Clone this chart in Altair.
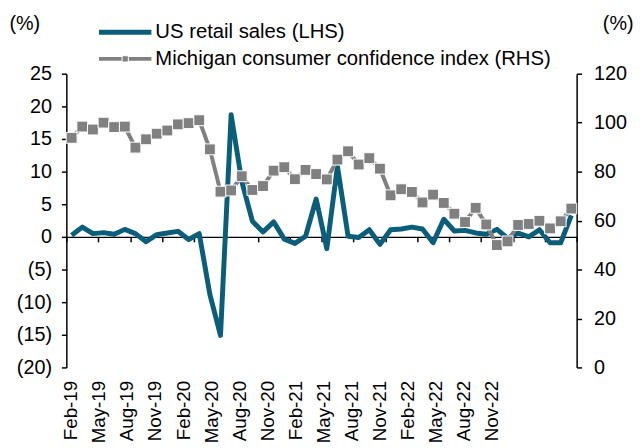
import altair as alt
import pandas as pd

months = [
    "Feb-19", "Mar-19", "Apr-19", "May-19", "Jun-19", "Jul-19", "Aug-19", "Sep-19", "Oct-19", "Nov-19", "Dec-19",
    "Jan-20", "Feb-20", "Mar-20", "Apr-20", "May-20", "Jun-20", "Jul-20", "Aug-20", "Sep-20", "Oct-20", "Nov-20", "Dec-20",
    "Jan-21", "Feb-21", "Mar-21", "Apr-21", "May-21", "Jun-21", "Jul-21", "Aug-21", "Sep-21", "Oct-21", "Nov-21", "Dec-21",
    "Jan-22", "Feb-22", "Mar-22", "Apr-22", "May-22", "Jun-22", "Jul-22", "Aug-22", "Sep-22", "Oct-22", "Nov-22", "Dec-22",
    "Jan-23",
]

# US retail sales, % m/m (LHS)
retail = [
    0.25, 1.5, 0.5, 0.65, 0.4, 1.15, 0.5, -0.75, 0.35, 0.6, 0.85,
    -0.4, 0.5, -8.8, -15.1, 18.7, 8.5, 2.4, 0.75, 2.3, -0.35, -1.0, 0.1,
    5.8, -1.8, 10.8, 0.1, -0.1, 1.1, -1.15, 1.1, 1.2, 1.5, 1.2, -0.9,
    2.7, 0.9, 1.0, 0.6, 0.4, 1.15, -0.2, 0.6, 0.0, 1.1, -0.9, -0.9,
    3.3,
]

# Michigan consumer confidence index (RHS)
michigan = [
    93.8, 98.4, 97.2, 100.0, 98.2, 98.4, 89.8, 93.2, 95.5, 96.8, 99.3,
    99.8, 101.0, 89.1, 71.8, 72.3, 78.1, 72.5, 74.1, 80.4, 81.8, 76.9, 80.7,
    79.0, 76.8, 84.9, 88.3, 82.9, 85.5, 81.2, 70.3, 72.8, 71.7, 67.4, 70.6,
    67.2, 62.8, 59.4, 65.2, 58.4, 50.0, 51.5, 58.2, 58.6, 59.9, 56.8, 59.7,
    64.9,
]

tick_labels = [
    "Feb-19", "May-19", "Aug-19", "Nov-19", "Feb-20", "May-20", "Aug-20", "Nov-20",
    "Feb-21", "May-21", "Aug-21", "Nov-21", "Feb-22", "May-22", "Aug-22", "Nov-22",
]

left_ticks = [-20, -15, -10, -5, 0, 5, 10, 15, 20, 25]
right_ticks = [0, 20, 40, 60, 80, 100, 120]

FONT = "Liberation Sans"
FS = 20
LEG_FS = 20.5
XFS = 19
BLUE = "#0B5E7A"
GRAY = "#808080"
W, H = 516, 297

df = pd.DataFrame({
    "idx": list(range(len(months))),
    "month": months,
    "retail": retail,
    "michigan": michigan,
})
lab_df = pd.DataFrame({"label": tick_labels})
one = pd.DataFrame({"k": [0]})

n = len(months)
xscale = alt.Scale(domain=[-0.5, n - 0.5], nice=False, zero=False)
zero_offset = -round(H * (0 - left_ticks[0]) / (left_ticks[-1] - left_ticks[0]))
boundary_ticks = [-0.5 + 3 * k for k in range(n // 3 + 1)]

retail_line = alt.Chart(df).mark_line(color=BLUE, strokeWidth=5, strokeJoin="round").encode(
    x=alt.X("idx:Q", scale=xscale,
            axis=alt.Axis(orient="bottom", offset=zero_offset, values=boundary_ticks,
                          labels=False, ticks=True, tickSize=5, tickWidth=1.5,
                          domain=True, domainWidth=1.5, domainColor="black",
                          tickColor="black", grid=False, title=None)),
    y=alt.Y("retail:Q", scale=alt.Scale(domain=[left_ticks[0], left_ticks[-1]], nice=False, zero=False),
            axis=alt.Axis(orient="left", values=left_ticks,
                          labelExpr="datum.value < 0 ? '(' + abs(datum.value) + ')' : '' + datum.value",
                          tickSize=5, tickWidth=1.5, domainWidth=1.5, domainColor="black",
                          tickColor="black", grid=False, title=None, labelPadding=10)),
)

mich_line = alt.Chart(df).mark_line(
    color=GRAY, strokeWidth=4,
    point=alt.OverlayMarkDef(shape="square", size=121, filled=True, fill=GRAY,
                             stroke="white", strokeWidth=1, opacity=1),
).encode(
    x=alt.X("idx:Q", scale=xscale, axis=None),
    y=alt.Y("michigan:Q", scale=alt.Scale(domain=[right_ticks[0], right_ticks[-1]], nice=False, zero=False),
            axis=alt.Axis(orient="right", values=right_ticks,
                          tickSize=5, tickWidth=1.5, domainWidth=1.5, domainColor="black",
                          tickColor="black", grid=False, title=None, labelPadding=12)),
)

label_layer = alt.Chart(lab_df).mark_point(opacity=0).encode(
    x=alt.X("label:N", sort=tick_labels,
            scale=alt.Scale(type="point", range=[4.7, 429.7], padding=0),
            axis=alt.Axis(orient="bottom", domain=False, ticks=False, labelAngle=270,
                          labelAlign="right", labelBaseline="middle", labelPadding=13,
                          labelFontSize=XFS, title=None, grid=False)),
    y=alt.value(0),
)

base = alt.Chart(one)
leg_blue = base.mark_rule(color=BLUE, strokeWidth=5).encode(
    x=alt.value(33), x2=alt.value(86), y=alt.value(-42))
leg_blue_txt = base.mark_text(align="left", baseline="middle", font=FONT, fontSize=LEG_FS, color="black").encode(
    x=alt.value(90), y=alt.value(-42), text=alt.value("US retail sales (LHS)"))
leg_gray = base.mark_rule(color=GRAY, strokeWidth=4).encode(
    x=alt.value(33), x2=alt.value(86), y=alt.value(-15))
leg_gray_pt = base.mark_point(shape="square", size=40, filled=True, fill=GRAY, stroke="white",
                              strokeWidth=1, opacity=1).encode(
    x=alt.value(59.5), y=alt.value(-15))
leg_gray_txt = base.mark_text(align="left", baseline="middle", font=FONT, fontSize=LEG_FS, color="black").encode(
    x=alt.value(90), y=alt.value(-15), text=alt.value("Michigan consumer confidence index (RHS)"))
pct_left = base.mark_text(align="center", baseline="middle", font=FONT, fontSize=FS, color="black").encode(
    x=alt.value(-42), y=alt.value(-50), text=alt.value("(%)"))
pct_right = base.mark_text(align="center", baseline="middle", font=FONT, fontSize=FS, color="black").encode(
    x=alt.value(558), y=alt.value(-50), text=alt.value("(%)"))

chart = alt.layer(
    retail_line, mich_line, label_layer,
    leg_blue, leg_blue_txt, leg_gray, leg_gray_pt, leg_gray_txt, pct_left, pct_right,
).resolve_scale(
    x="independent", y="independent"
).properties(
    width=W, height=H,
    autosize=alt.AutoSizeParams(type="none"),
    padding={"left": 59, "top": 64, "right": 58, "bottom": 76},
    background="white",
).configure_view(
    stroke=None
).configure_axis(
    labelFont=FONT, labelFontSize=FS, labelColor="black",
)

chart.save("out.html", embed_options={"renderer": "svg", "actions": False})
